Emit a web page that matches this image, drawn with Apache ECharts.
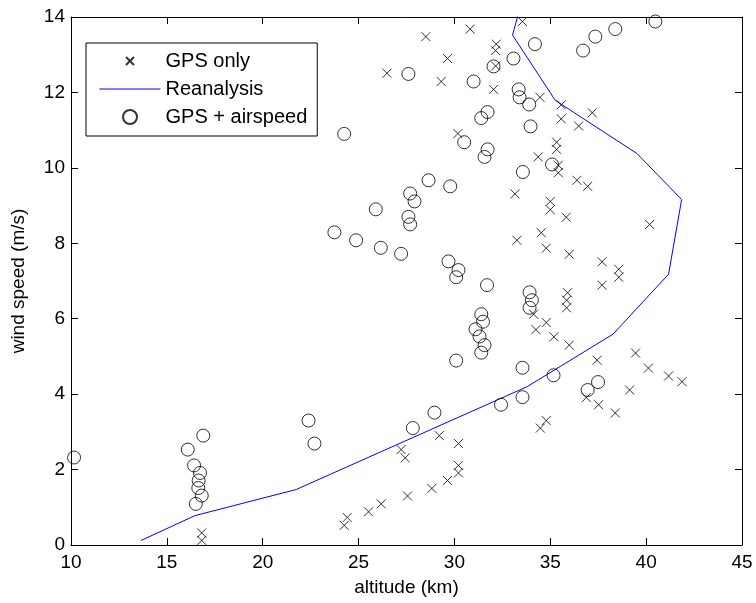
<!DOCTYPE html>
<html><head><meta charset="utf-8">
<script src="https://cdn.jsdelivr.net/npm/echarts@6/dist/echarts.min.js"></script>
<style>html,body{margin:0;padding:0;background:#fff}#c{width:756px;height:603px}</style>
</head><body><div id="c"></div>
<script>
// GPS only: [altitude km, wind speed m/s]
var gpsOnly = [
 [28.51,13.48],[30.82,13.68],[33.55,13.88],[29.64,12.9],[32.18,13.28],[32.15,13.11],[32.15,12.7],
 [29.31,12.29],[32.04,12.08],[34.46,11.87],[35.57,11.67],[35.57,11.3],[30.18,10.91],[26.48,12.51],
 [37.19,11.46],[36.48,11.11],[34.37,10.29],[35.33,10.68],[35.33,10.49],[35.42,10.07],[35.42,9.87],
 [36.39,9.67],[36.95,9.51],[33.16,9.31],[35.0,9.11],[35.0,8.89],[35.83,8.69],[40.18,8.5],
 [33.26,8.08],[34.53,8.28],[34.79,7.87],[35.99,7.71],[37.7,7.51],[38.57,7.31],[38.57,7.1],
 [37.7,6.89],[35.9,6.69],[35.85,6.49],[35.85,6.29],[34.13,6.12],[34.79,5.9],[34.25,5.71],
 [35.19,5.52],[35.99,5.3],[39.45,5.09],[37.44,4.9],[40.12,4.69],[41.17,4.48],[41.87,4.33],
 [39.14,4.11],[36.88,3.91],[37.52,3.72],[38.39,3.5],[34.79,3.3],[34.48,3.1],
 [29.21,2.9],[30.21,2.69],[27.22,2.53],[27.43,2.31],[30.21,2.11],[30.21,1.91],[29.64,1.71],
 [28.82,1.5],[27.55,1.3],[26.18,1.09],[25.52,0.88],[24.41,0.73],[24.25,0.52],
 [16.82,0.32],[16.82,0.12]
];
// Reanalysis profile
var reanalysis = [
 [13.65,0.12],[16.47,0.78],[21.74,1.47],[33.8,4.2],[38.27,5.59],[41.17,7.18],[41.85,9.16],
 [39.52,10.38],[35.26,11.79],[33.03,13.52],[33.56,14.5]
];
// GPS + airspeed
var gpsAirspeed = [
 [10.16,2.32],[16.09,2.53],[16.9,2.9],[16.42,2.11],[16.73,1.91],[16.66,1.71],[16.64,1.51],
 [16.82,1.31],[16.51,1.09],[22.39,3.3],[22.7,2.69],[27.83,3.1],[28.96,3.51],[30.09,4.89],
 [32.43,3.72],[33.55,3.92],[33.55,4.7],[35.17,4.5],[36.95,4.11],[37.49,4.32],
 [29.69,7.52],[30.21,7.29],[30.09,7.1],[31.7,6.89],[33.92,6.7],[34.04,6.49],[33.92,6.29],
 [31.4,6.12],[31.49,5.92],[31.1,5.72],[31.31,5.53],[31.57,5.3],[31.4,5.1],
 [30.51,10.68],[31.73,10.49],[31.57,10.29],[33.57,9.89],[35.09,10.09],[28.65,9.67],[29.78,9.51],
 [27.69,9.32],[27.92,9.11],[27.6,8.7],[27.69,8.5],[27.22,7.72],[23.74,8.29],[24.87,8.08],
 [25.9,8.9],[26.16,7.88],[27.6,12.49],[31.0,12.29],[32.04,12.69],[33.08,12.9],[34.2,13.28],
 [33.35,12.08],[33.4,11.87],[33.9,11.68],[33.97,11.1],[31.73,11.48],[31.4,11.32],[24.25,10.9],
 [40.48,13.88],[38.39,13.68],[37.35,13.48],[36.71,13.11]
];
var seriesNames = ['GPS only','Reanalysis','GPS + airspeed'];
var xTicks = {min:10, max:45, step:5};
var yTicks = {min:0, max:14, step:2};

var FONT = 'Liberation Sans, Arial, Helvetica, sans-serif';
var chart = echarts.init(document.getElementById('c'), null, {renderer:'canvas'});
var axisCommon = {
  axisLine:{show:true, onZero:false, lineStyle:{color:'#000', width:1}},
  axisTick:{show:true, inside:true, length:7, lineStyle:{color:'#000'}},
  splitLine:{show:false}
};
chart.setOption({
  animation:false,
  backgroundColor:'#fff',
  grid:{left:71, right:14, top:17, bottom:58, containLabel:false},
  legend:{
    orient:'vertical', left:86, top:43,
    padding:[8,10,9,13], itemGap:8, itemWidth:61, itemHeight:14,
    backgroundColor:'#fff', borderColor:'#000', borderWidth:1,
    textStyle:{fontFamily:FONT, fontSize:20, color:'#000'},
    data:[
      {name:seriesNames[0], icon:'path://M0,0M14,14M3,3L11,11M11,3L3,11'},
      {name:seriesNames[1], itemStyle:{color:'rgba(0,0,0,0)', borderColor:'rgba(0,0,0,0)', borderWidth:0},
       lineStyle:{color:'#0000ff', width:1}},
      {name:seriesNames[2], icon:'circle'}
    ]
  },
  xAxis:[
    Object.assign({type:'value', position:'bottom', min:xTicks.min, max:xTicks.max, interval:xTicks.step,
      name:'altitude (km)', nameLocation:'middle', nameGap:33,
      nameTextStyle:{fontFamily:FONT, fontSize:19, color:'#000'},
      axisLabel:{fontFamily:FONT, fontSize:19, color:'#000', margin:8}}, axisCommon),
    Object.assign({type:'value', position:'top', min:xTicks.min, max:xTicks.max, interval:xTicks.step,
      axisLabel:{show:false}}, axisCommon)
  ],
  yAxis:[
    Object.assign({type:'value', position:'left', min:yTicks.min, max:yTicks.max, interval:yTicks.step,
      name:'wind speed (m/s)', nameLocation:'middle', nameGap:43,
      nameTextStyle:{fontFamily:FONT, fontSize:19, color:'#000'},
      axisLabel:{fontFamily:FONT, fontSize:19, color:'#000', margin:6}}, axisCommon),
    Object.assign({type:'value', position:'right', min:yTicks.min, max:yTicks.max, interval:yTicks.step,
      axisLabel:{show:false}}, axisCommon)
  ],
  series:[
    {name:seriesNames[0], type:'scatter', data:gpsOnly, symbol:'path://M0,0L10,10M10,0L0,10', symbolSize:9,
     itemStyle:{color:'#000', borderColor:'#000', borderWidth:1}, z:3},
    {name:seriesNames[1], type:'line', data:reanalysis, symbol:'none', showSymbol:false, clip:true,
     lineStyle:{color:'#0000ff', width:1}, itemStyle:{color:'#0000ff'}, z:2},
    {name:seriesNames[2], type:'scatter', data:gpsAirspeed, symbol:'circle', symbolSize:13,
     itemStyle:{color:'rgba(0,0,0,0)', borderColor:'#000', borderWidth:1}, z:4}
  ]
});
</script></body></html>
